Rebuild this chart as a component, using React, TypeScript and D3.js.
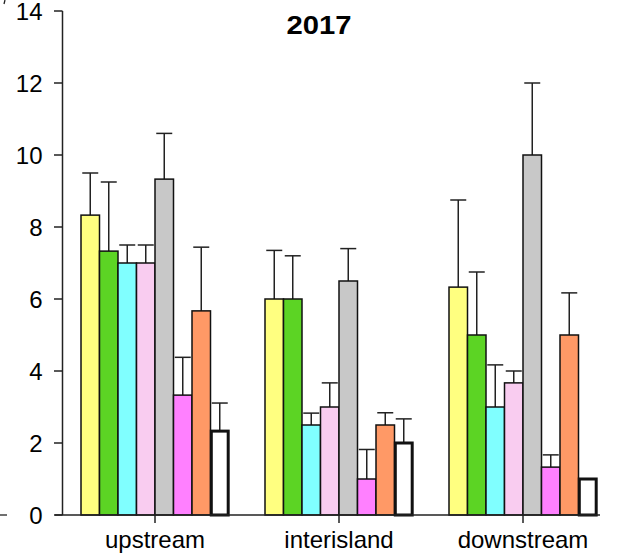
import React from "react";
import * as d3 from "d3";

const categories = ["upstream", "interisland", "downstream"];
const seriesNames = ["s1", "s2", "s3", "s4", "s5", "s6", "s7", "s8"];
const seriesColors = ["#FFFF80", "#5CD424", "#80FFFF", "#F9CCF0", "#C8C8C8", "#FF80FF", "#FF9966", "#FFFFFF"];
// values per series, per category
const means = [
  [8.33, 6.0, 6.33],
  [7.33, 6.0, 5.0],
  [7.0, 2.5, 3.0],
  [7.0, 3.0, 3.67],
  [9.33, 6.5, 10.0],
  [3.33, 1.0, 1.33],
  [5.67, 2.5, 5.0],
  [2.33, 2.0, 1.0],
];
const upperErr = [
  [9.5, 7.35, 8.75],
  [9.25, 7.2, 6.75],
  [7.5, 2.83, 4.17],
  [7.5, 3.67, 4.0],
  [10.6, 7.4, 12.0],
  [4.38, 1.82, 1.67],
  [7.44, 2.84, 6.17],
  [3.11, 2.67, 1.0],
];
const yTicks = [0, 2, 4, 6, 8, 10, 12, 14];
const title = "2017";

export default function App() {
  const W = 626, H = 554;
  const y = d3.scaleLinear().domain([0, 14]).range([515, 11]);
  const x0 = d3.scaleBand<string>().domain(categories).range([63, 615]).padding(0);
  const x1 = d3.scaleBand<string>().domain(seriesNames).range([18, 166]).padding(0);
  const font = "'Liberation Sans', Arial, sans-serif";
  const bw = x1.bandwidth();
  return (
    <svg width={W} height={H} style={{ position: "absolute", left: 0, top: 0, background: "#fff" }} fontFamily={font}>
      <rect width={W} height={H} fill="#fff" />
      {/* cut-off fragments at left edge */}
      <line x1={0} x2={7} y1={515} y2={515} stroke="#222" strokeWidth={1.3} />
      <line x1={5} x2={4} y1={0} y2={4} stroke="#222" strokeWidth={1.3} />
      <text x={319} y={34.3} textAnchor="middle" fontSize={25} fontWeight="bold" fill="#000" textLength={65} lengthAdjust="spacingAndGlyphs">{title}</text>
      {categories.map((c, ci) => (
        <g key={c} transform={`translate(${x0(c)},0)`}>
          {seriesNames.map((s, si) => {
            const v = means[si][ci];
            const e = upperErr[si][ci];
            const bx = x1(s)!;
            const cx = bx + bw / 2;
            return (
              <g key={s}>
                {e > v && (
                  <g stroke="#222" strokeWidth={1.5}>
                    <line x1={cx} x2={cx} y1={y(v)} y2={y(e)} />
                    <line x1={cx - 8} x2={cx + 8} y1={y(e)} y2={y(e)} />
                  </g>
                )}
                <rect
                  x={bx + (si === 7 ? 0.8 : 0)}
                  y={y(v)}
                  width={bw - (si === 7 ? 1.6 : 0)}
                  height={y(0) - y(v)}
                  fill={seriesColors[si]}
                  stroke="#111"
                  strokeWidth={si === 7 ? 3 : 1.5}
                />
              </g>
            );
          })}
        </g>
      ))}
      {/* y axis */}
      <line x1={62.5} x2={62.5} y1={11} y2={515} stroke="#222" strokeWidth={1.5} />
      {yTicks.map((t) => (
        <g key={t}>
          <line x1={54} x2={62.5} y1={y(t)} y2={y(t)} stroke="#222" strokeWidth={1.5} />
          <text x={42.5} y={y(t) + 9} textAnchor="end" fontSize={24} fill="#000">{t}</text>
        </g>
      ))}
      {/* x axis */}
      <line x1={55} x2={600} y1={515} y2={515} stroke="#222" strokeWidth={1.5} />
      {categories.map((c) => {
        const cx = x0(c)! + x0.bandwidth() / 2;
        return (
          <g key={c}>
            <line x1={cx} x2={cx} y1={515} y2={523} stroke="#222" strokeWidth={1.5} />
            <text x={cx} y={548} textAnchor="middle" fontSize={24} fill="#000">{c}</text>
          </g>
        );
      })}
    </svg>
  );
}
